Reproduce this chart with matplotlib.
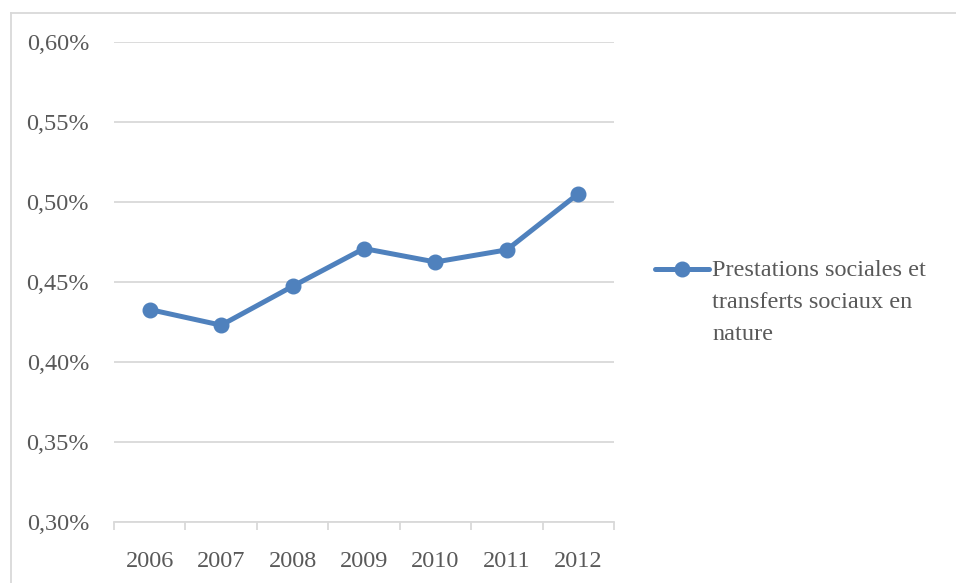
import matplotlib
matplotlib.use("Agg")
import matplotlib.pyplot as plt
from matplotlib.lines import Line2D
from matplotlib.ticker import FuncFormatter

years = ["2006", "2007", "2008", "2009", "2010", "2011", "2012"]
values = [0.4328, 0.4230, 0.4473, 0.4709, 0.4625, 0.4701, 0.5052]
series_label = "Prestations sociales et\ntransferts sociaux en\nnature"
y_ticks = [0.30, 0.35, 0.40, 0.45, 0.50, 0.55, 0.60]

W, H = 956, 583
BLUE = "#4F81BD"
GRID = "#D9D9D9"
TEXT = "#595959"
FONT = ["Liberation Serif", "DejaVu Serif"]

plt.rcParams["font.family"] = FONT

fig = plt.figure(figsize=(W / 100, H / 100), dpi=100)
ax = fig.add_axes([114 / W, (H - 522) / H, 500 / W, 480 / H])

x = list(range(len(years)))
ax.plot(x, values, color=BLUE, lw=3.6, marker="o", ms=10.5,
        solid_capstyle="round", zorder=3)

ax.set_xlim(-0.5, len(years) - 0.5)
ax.set_ylim(0.30, 0.60)
ax.set_yticks(y_ticks)
ax.yaxis.set_major_formatter(FuncFormatter(lambda v, p: f"{v:.2f}%".replace(".", ",")))
ax.set_xticks(x)
ax.set_xticklabels(years)
ax.set_xticks([i - 0.5 for i in range(len(years) + 1)], minor=True)

ax.grid(axis="y", color=GRID, lw=1.3)
ax.set_axisbelow(True)
for s in ["top", "right", "left"]:
    ax.spines[s].set_visible(False)
ax.spines["bottom"].set_color(GRID)
ax.spines["bottom"].set_linewidth(1.3)

ax.tick_params(axis="y", length=0, pad=18, labelsize=17.5, labelcolor=TEXT)
ax.tick_params(axis="x", which="major", length=0, pad=21, labelsize=17.5, labelcolor=TEXT)
ax.tick_params(axis="x", which="minor", length=6, width=1.3, color=GRID, direction="out")

# legend entry: handle line with marker, then the wrapped label
fig.add_artist(Line2D([655 / W, 709 / W], [(H - 269) / H] * 2, color=BLUE, lw=3.6,
                      solid_capstyle="round", transform=fig.transFigure))
fig.add_artist(Line2D([682 / W], [(H - 269) / H], color=BLUE, marker="o", ms=10.5,
                      transform=fig.transFigure))
fig.text(712 / W, (H - 260) / H, series_label, color=TEXT, fontsize=17.5,
         va="top", ha="left", linespacing=1.7,
         transform=fig.transFigure)

# chart area border (left and top edges)
fig.add_artist(Line2D([10.5 / W, 10.5 / W], [0, (H - 13) / H], color=GRID, lw=1.3,
                      transform=fig.transFigure))
fig.add_artist(Line2D([10.5 / W, 1], [(H - 13) / H] * 2, color=GRID, lw=1.3,
                      transform=fig.transFigure))

fig.savefig("out.png", dpi=100)
